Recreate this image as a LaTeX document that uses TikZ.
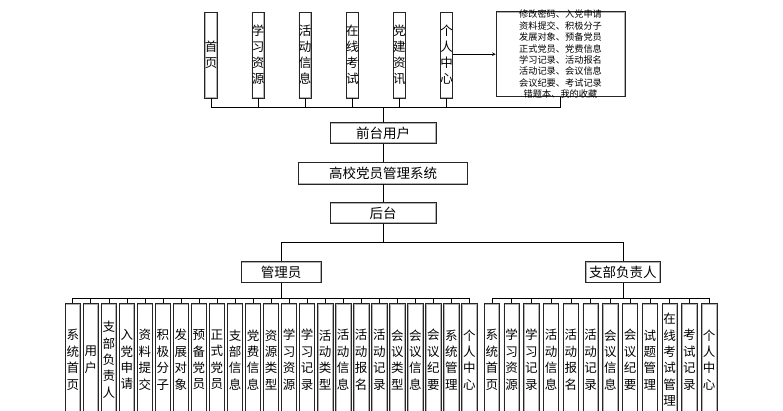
\documentclass[tikz,border=0pt]{standalone}
\usepackage{fontspec}
\setmainfont{Noto Sans CJK SC}

\tikzset{
  box/.style={draw=black!85, fill=white, inner sep=0pt, align=center,
    path picture={\draw[black!30, line width=2pt] (path picture bounding box.south west) rectangle (path picture bounding box.north east);}},
  midbox/.style={box, font=\fontsize{13.5}{15}\selectfont},
  topbox/.style={box, minimum width=12pt, minimum height=86pt, font=\fontsize{12.5}{16}\selectfont},
  leafbox/.style={box, minimum width=15.3pt, minimum height=112.5pt, font=\fontsize{12.5}{16.4}\selectfont},
}

\begin{document}
\begin{tikzpicture}[x=1pt, y=-1pt, >=stealth, line width=0.6pt]
    % Size of the picture, leaves run off the bottom
    \useasboundingbox (0,0) rectangle (783,410);
    \clip (0,0) rectangle (783,410);

    % Centre column
    \node[midbox, minimum width=106pt, minimum height=20.6pt] (front) at (383,133) {前台用户};
    \node[midbox, minimum width=169.4pt, minimum height=21.7pt] (sys) at (383,173.2) {高校党员管理系统};
    \node[midbox, minimum width=106pt, minimum height=20.6pt] (back) at (383,213) {后台};
    \draw (front) -- (sys);
    \draw (sys) -- (back);

    % Front-end pages
    \foreach \txt [count=\i] in {{首\\页}, {学\\习\\资\\源}, {活\\动\\信\\息}, {在\\线\\考\\试}, {党\\建\\资\\讯}, {个\\人\\中\\心}}
    {
        \node[topbox] (t\i) at ({211+47.1*(\i-1)},55) {\txt};
        \draw (front.north) -- ++(0,-14.7) -| (t\i.south);
    }

    % Personal centre details
    \node[box, minimum width=129pt, minimum height=85pt] (info) at (560.5,54.2) {};
    \node[align=center, inner sep=0pt, font=\fontsize{9.2}{11.4}\selectfont] (infotext) at (info) {修改密码、入党申请\\资料提交、积极分子\\发展对象、预备党员\\正式党员、党费信息\\学习记录、活动报名\\活动记录、会议信息\\会议纪要、考试记录\\错题本、我的收藏};
    \draw (front.north) -- ++(0,-14.7) -| (info.south);
    \draw[->] (t6.east |- info.west) -- (info.west);

    % Back-end roles
    \node[midbox, minimum width=80pt, minimum height=21pt] (mgr) at (281,272.2) {管理员};
    \node[midbox, minimum width=74.3pt, minimum height=21pt] (head) at (622.8,272.2) {支部负责人};
    \draw (back.south) -- ++(0,19) -| (mgr.north);
    \draw (back.south) -- ++(0,19) -| (head.north);

    % Administrator modules
    \foreach \txt [count=\i] in {{系\\统\\首\\页}, {用\\户}, {支\\部\\负\\责\\人}, {入\\党\\申\\请}, {资\\料\\提\\交}, {积\\极\\分\\子}, {发\\展\\对\\象}, {预\\备\\党\\员}, {正\\式\\党\\员}, {支\\部\\信\\息}, {党\\费\\信\\息}, {资\\源\\类\\型}, {学\\习\\资\\源}, {学\\习\\记\\录}, {活\\动\\类\\型}, {活\\动\\信\\息}, {活\\动\\报\\名}, {活\\动\\记\\录}, {会\\议\\类\\型}, {会\\议\\信\\息}, {会\\议\\纪\\要}, {系\\统\\管\\理}, {个\\人\\中\\心}}
    {
        \node[leafbox] (m\i) at ({72.75+18.03*(\i-1)},359.75) {\txt};
        \draw (mgr.south) -- ++(0,15.6) -| (m\i.north);
    }

    % Branch leader modules
    \foreach \txt [count=\i] in {{系\\统\\首\\页}, {学\\习\\资\\源}, {学\\习\\记\\录}, {活\\动\\信\\息}, {活\\动\\报\\名}, {活\\动\\记\\录}, {会\\议\\信\\息}, {会\\议\\纪\\要}, {试\\题\\管\\理}, {在\\线\\考\\试\\管\\理}, {考\\试\\记\\录}, {个\\人\\中\\心}}
    {
        \node[leafbox] (b\i) at ({491.8+19.76*(\i-1)},359.75) {\txt};
        \draw (head.south) -- ++(0,15.6) -| (b\i.north);
    }
\end{tikzpicture}
\end{document}
